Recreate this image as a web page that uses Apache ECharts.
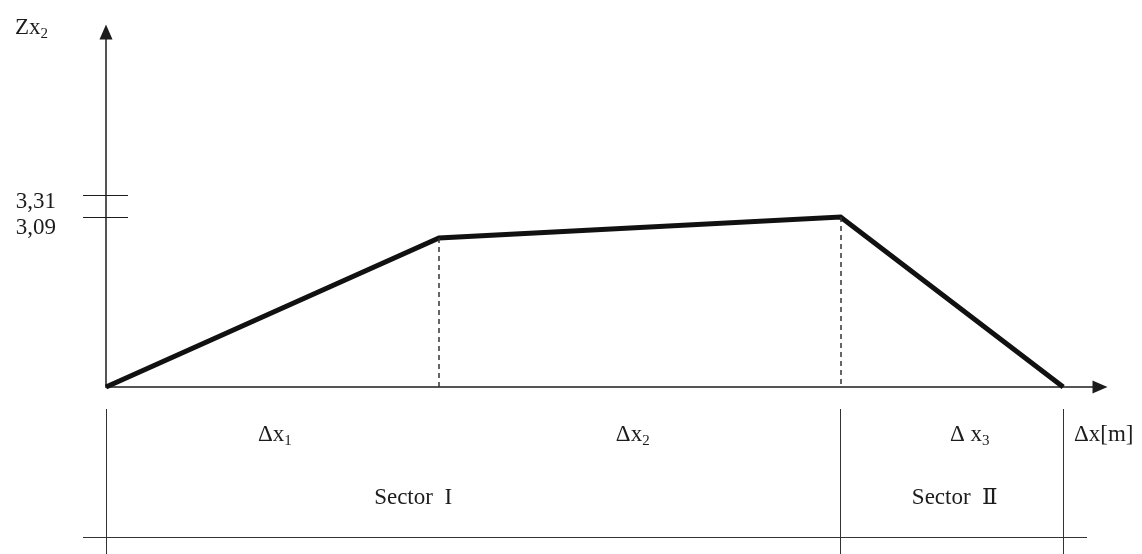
<!DOCTYPE html>
<html><head><meta charset="utf-8">
<script src="https://cdn.jsdelivr.net/npm/echarts@6/dist/echarts.min.js"></script>
<style>html,body{margin:0;padding:0;background:#fff}#c{width:1142px;height:554px}</style>
</head><body><div id="c"></div>
<script>
// ---- data ----
const xPoints = [0, 3.35, 7.39, 9.63];
const zValues = [1.39, 2.88, 3.09, 1.39];
const yTickValues = [3.09, 3.31];
const yTickLabels = ['3,09', '3,31'];
const segmentLabels = [['Δx', '1'], ['Δx', '2'], ['Δ x', '3']];
const segmentLabelX = [1.70, 5.30, 8.69];
const sectorLabels = ['Sector  I', 'Sector  Ⅱ'];
const sectorLabelX = [3.09, 8.54];
const sectorBounds = [0, 7.39, 9.63];
const yAxisName = ['Zx', '2'];
const xAxisName = 'Δx[m]';

// ---- chart ----
const FONT = "'Liberation Serif', 'DejaVu Serif', 'Times New Roman', serif";
const INK = '#1c1c1c';
const X_MIN = 0, X_MAX = 10, Y_MIN = 1.39, Y_MAX = 4.94;
const T_MIN = -0.231, T_MAX = 9.87;
const ROW_DELTA = 0.821, ROW_SECTOR = 0.386, ROW_RULE = 0.117;

const chart = echarts.init(document.getElementById('c'), null, {renderer: 'canvas'});

const subRich = {
  m: {fontFamily: FONT, fontSize: 23, color: INK, lineHeight: 28, verticalAlign: 'middle'},
  s: {fontFamily: FONT, fontSize: 15, color: INK, lineHeight: 15, verticalAlign: 'bottom'}
};

const labelData = [];
segmentLabels.forEach((p, i) => labelData.push({value: [segmentLabelX[i], ROW_DELTA], text: '{m|' + p[0] + '}{s|' + p[1] + '}'}));
sectorLabels.forEach((t, i) => labelData.push({value: [sectorLabelX[i], ROW_SECTOR], text: '{m|' + t + '}'}));

const tableLines = sectorBounds.map(x => [{coord: [x, 0]}, {coord: [x, 1]}]);
tableLines.push([{coord: [T_MIN, ROW_RULE]}, {coord: [T_MAX, ROW_RULE]}]);

const dashed = [1, 2].map(i => [{coord: [xPoints[i], zValues[i]]}, {coord: [xPoints[i], Y_MIN]}]);

chart.setOption({
  animation: false,
  backgroundColor: '#fff',
  grid: [
    {left: 106, top: 32, width: 994, height: 355},
    {left: 83, top: 409, width: 1004, height: 145}
  ],
  xAxis: [
    {
      type: 'value', gridIndex: 0, min: X_MIN, max: X_MAX,
      axisLine: {show: true, onZero: false, symbol: ['none', 'triangle'], symbolSize: [13, 15],
        lineStyle: {color: INK, width: 1.5}},
      axisTick: {show: false}, axisLabel: {show: false}, splitLine: {show: false},
      name: '{n|' + xAxisName + '}', nameLocation: 'end', nameGap: -26,
      nameTextStyle: {align: 'left', verticalAlign: 'middle',
        rich: {n: {fontFamily: FONT, fontSize: 23, color: INK, padding: [96, 0, 0, 0]}}}
    },
    {type: 'value', gridIndex: 1, min: T_MIN, max: T_MAX, show: false}
  ],
  yAxis: [
    {
      type: 'value', gridIndex: 0, min: Y_MIN, max: Y_MAX,
      axisLine: {show: true, onZero: false, symbol: ['none', 'triangle'], symbolSize: [13, 15],
        lineStyle: {color: INK, width: 1.5}},
      axisTick: {show: true, length: 23, customValues: yTickValues, lineStyle: {color: INK, width: 1}},
      axisLabel: {
        show: true, customValues: yTickValues, margin: 50,
        formatter: v => {
          const i = yTickValues.indexOf(v);
          return '{r' + i + '|' + yTickLabels[i] + '}';
        },
        rich: {
          r0: {fontFamily: FONT, fontSize: 23, color: INK, padding: [22, 0, 0, 0]},
          r1: {fontFamily: FONT, fontSize: 23, color: INK, padding: [14, 0, 0, 0]}
        }
      },
      splitLine: {show: false},
      name: '{m|' + yAxisName[0] + '}{s|' + yAxisName[1] + '}',
      nameLocation: 'end', nameGap: 4,
      nameTextStyle: {align: 'right', verticalAlign: 'middle', padding: [0, 58, 0, 0], rich: subRich}
    },
    {
      type: 'value', gridIndex: 0, min: Y_MIN, max: Y_MAX, position: 'left',
      axisLine: {show: false},
      axisTick: {show: true, inside: true, length: 22, customValues: yTickValues, lineStyle: {color: INK, width: 1}},
      axisLabel: {show: false}, splitLine: {show: false}
    },
    {type: 'value', gridIndex: 1, min: 0, max: 1, show: false}
  ],
  series: [
    {
      type: 'line', xAxisIndex: 0, yAxisIndex: 0,
      data: xPoints.map((x, i) => [x, zValues[i]]),
      symbol: 'none', clip: false,
      lineStyle: {color: '#111', width: 5, join: 'miter'},
      markLine: {
        silent: true, symbol: ['none', 'none'], label: {show: false},
        lineStyle: {color: '#333', width: 1.5, type: [5, 4]},
        data: dashed
      }
    },
    {
      type: 'scatter', xAxisIndex: 1, yAxisIndex: 2, clip: false,
      symbolSize: 0,
      itemStyle: {opacity: 1},
      data: labelData,
      label: {show: true, position: 'inside', color: INK, textBorderWidth: 0, opacity: 1,
        formatter: p => p.data.text, rich: subRich},
      markLine: {
        silent: true, symbol: ['none', 'none'], label: {show: false},
        lineStyle: {color: '#333', width: 1, type: 'solid'},
        data: tableLines
      }
    }
  ]
});
</script>
</body></html>
